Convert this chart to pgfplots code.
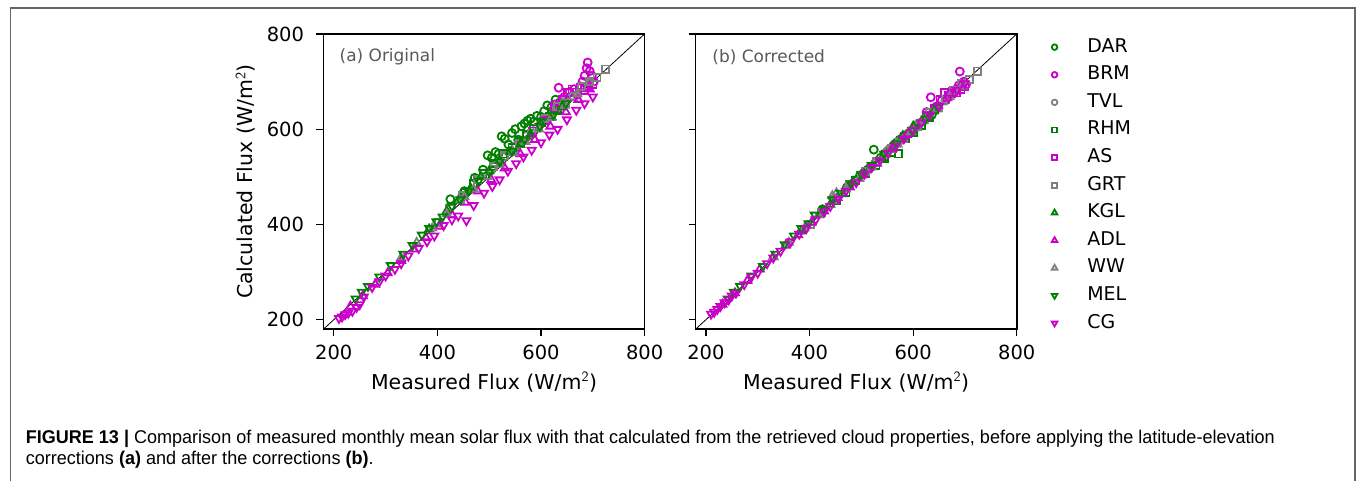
\documentclass[border=0pt]{standalone}
\usepackage{fontspec}
\setmainfont{DejaVu Sans}
\newfontfamily\capfont{Liberation Sans}
\usepackage{pgfplots}
\pgfplotsset{compat=1.18}
\usepackage{pgfplotstable}

\definecolor{cgreen}{HTML}{008000}
\definecolor{cmag}{HTML}{CC00CC}
\definecolor{cgray}{HTML}{808080}
\definecolor{captext}{HTML}{333333}
\definecolor{framec}{HTML}{666666}

% measured flux, calculated flux (original), calculated flux (corrected)
\pgfplotstableread{
meas orig corr
425 453 432
452 470 455
472 498 478
488 515 492
497 545 502
505 540 508
512 552 515
518 548 520
524 585 557
530 580 533
537 568 540
544 592 548
550 600 553
556 578 560
562 606 566
568 612 572
574 618 578
580 622 583
586 616 588
592 628 592
600 626 598
606 638 604
612 650 612
620 646 618
628 662 624
636 656 630
}\DAR
\pgfplotstableread{
meas orig corr
626 652 636
634 687 667
645 668 648
655 678 660
664 684 664
670 672 668
676 690 674
680 700 678
684 712 684
688 728 692
690 740 721
694 722 696
698 712 700
702 700 694
}\BRM
\pgfplotstableread{
meas orig corr
505 516 506
528 542 530
552 566 556
572 586 574
592 604 592
610 622 612
628 640 628
646 658 646
662 670 660
}\TVL
\pgfplotstableread{
meas orig corr
452 466 450
470 486 468
488 506 492
508 528 506
528 548 524
544 562 538
558 574 552
572 588 548
586 600 580
600 614 594
616 626 608
632 640 624
}\RHM
\pgfplotstableread{
meas orig corr
560 570 560
584 596 584
606 618 606
626 644 628
642 662 644
652 676 662
660 684 676
668 678 670
676 688 680
684 682 676
692 690 684
700 694 690
}\AS
\pgfplotstableread{
meas orig corr
402 404 400
424 434 426
448 460 452
478 494 484
508 522 512
530 544 532
558 570 560
582 590 580
608 622 606
632 648 634
648 654 646
662 668 662
678 690 682
694 700 696
708 708 704
724 726 722
}\GRT
\pgfplotstableread{
meas orig corr
384 390 386
418 428 420
440 450 442
464 476 464
484 500 490
500 512 504
520 534 522
540 552 540
560 568 560
580 590 586
600 612 606
620 626 622
640 646 638
}\KGL
\pgfplotstableread{
meas orig corr
232 228 232
256 250 256
280 274 282
304 298 306
330 324 332
354 348 356
378 372 378
404 396 404
428 420 428
454 446 456
478 470 478
504 494 504
530 518 528
560 548 560
588 578 588
618 606 618
648 636 650
672 662 672
694 684 694
}\ADL
\pgfplotstableread{
meas orig corr
330 330 332
360 362 362
390 392 392
418 422 420
444 450 460
452 458 466
470 474 474
496 500 496
520 526 520
546 550 546
570 574 568
596 600 594
620 624 618
646 650 642
670 674 668
694 698 690
}\WW
\pgfplotstableread{
meas orig corr
242 244 244
254 258 258
266 270 270
288 290 292
310 314 312
334 338 338
352 356 358
370 378 376
384 392 392
398 406 402
410 416 420
428 438 432
444 452 452
460 470 466
480 492 486
500 510 506
520 532 524
544 554 548
568 578 570
598 606 598
624 630 622
648 654 646
}\MEL
\pgfplotstableread{
meas orig corr
210 203 212
216 206 216
222 211 222
228 214 228
236 218 236
244 226 242
250 232 250
258 248 256
274 268 274
288 280 290
300 292 298
318 306 318
330 318 330
344 334 344
364 350 364
380 364 380
394 376 392
412 398 410
428 410 426
440 418 438
456 408 454
470 440 470
490 466 488
506 480 506
520 494 520
536 512 534
552 528 550
566 542 564
582 556 580
600 572 598
616 588 614
632 600 630
650 620 648
668 640 666
684 654 682
700 668 696
}\CG

\pgfplotsset{
  panel/.style={
    scale only axis, width=322bp, height=296bp,
    xmin=180, xmax=800, ymin=180, ymax=800,
    xtick={200,400,600,800}, ytick={200,400,600,800},
    tick align=outside, xtick pos=left, ytick pos=left,
    major tick length=7bp,
    tick style={black, line width=1.3bp},
    axis line style={black, line width=1.6bp},
    tick label style={font=\fontsize{19.5bp}{22bp}\selectfont},
    yticklabel style={xshift=-9bp},
    xticklabel style={yshift=-5bp},
    label style={font=\fontsize{20.5bp}{24bp}\selectfont},
    /pgf/number format/assume math mode=true,
    xlabel={Measured Flux (W/m$^{\mathsf{2}}$)},
    xlabel style={at={(axis description cs:0.5,-0.179)}, anchor=center},
    ylabel style={at={(axis description cs:-0.242,0.5)}, anchor=center},
  },
  stn/.style={only marks, line width=1.8bp},
  circ/.style={stn, mark=o, mark size=4bp},
  sq/.style={stn, mark=square, mark size=3.6bp},
  tup/.style={stn, mark=triangle, mark size=4.6bp},
  tdn/.style={stn, mark=triangle, mark size=4.6bp, mark options={rotate=180}},
}
\tikzset{panellabel/.style={anchor=west, inner sep=0pt, text=black!65, font=\fontsize{17bp}{20bp}\selectfont}}

\newsavebox\capone
\newsavebox\captwo
\newcommand\capsize{\capfont\fontsize{18.5bp}{22bp}\selectfont}
\sbox\capone{\capsize\textbf{FIGURE 13 |} Comparison of measured monthly mean solar flux with that calculated from the retrieved cloud properties, before applying the latitude-elevation}
\sbox\captwo{\capsize corrections \textbf{(a)} and after the corrections \textbf{(b)}.}

\begin{document}
\pgfmathsetmacro\capscale{1252/(\wd\capone/1bp)}
\begin{tikzpicture}
\useasboundingbox (0,0) rectangle (1357bp,482bp);
% frame around the figure
\draw[framec, line width=1.5bp] (7.5bp,0bp) -- (7.5bp,474bp) -- (1355bp,474bp) -- (1355bp,0bp);

% (a) original retrieval
\begin{axis}[panel, at={(321bp,152bp)}, anchor=south west,
  ylabel={Calculated Flux (W/m$^{\mathsf{2}}$)}]
\addplot[circ, cgreen] table[x=meas, y=orig] {\DAR};
\addplot[circ, cmag]   table[x=meas, y=orig] {\BRM};
\addplot[circ, cgray]  table[x=meas, y=orig] {\TVL};
\addplot[sq, cgreen]   table[x=meas, y=orig] {\RHM};
\addplot[sq, cmag]     table[x=meas, y=orig] {\AS};
\addplot[sq, cgray]    table[x=meas, y=orig] {\GRT};
\addplot[tup, cgreen]  table[x=meas, y=orig] {\KGL};
\addplot[tup, cmag]    table[x=meas, y=orig] {\ADL};
\addplot[tup, cgray]   table[x=meas, y=orig] {\WW};
\addplot[tdn, cgreen]  table[x=meas, y=orig] {\MEL};
\addplot[tdn, cmag]    table[x=meas, y=orig] {\CG};
\addplot[black, line width=0.8bp, no marks] coordinates {(180,180) (800,800)};
\node[panellabel] at (rel axis cs:0.05,0.922) {(a) Original};
\end{axis}

% (b) after the latitude-elevation corrections
\begin{axis}[panel, at={(694bp,152bp)}, anchor=south west,
  yticklabels={},
  legend style={draw=none, fill=none, at={(1.099,0.993)}, anchor=north west,
    font=\fontsize{19bp}{22bp}\selectfont, row sep=9.67bp,
    nodes={inner sep=0pt, text height=14bp, text depth=4bp},
    /tikz/every odd column/.append style={column sep=30bp}},
  legend cell align=left,
  legend image post style={scale=0.7}]
\addplot[circ, cgreen] table[x=meas, y=corr] {\DAR}; \addlegendentry{DAR}
\addplot[circ, cmag]   table[x=meas, y=corr] {\BRM}; \addlegendentry{BRM}
\addplot[circ, cgray]  table[x=meas, y=corr] {\TVL}; \addlegendentry{TVL}
\addplot[sq, cgreen]   table[x=meas, y=corr] {\RHM}; \addlegendentry{RHM}
\addplot[sq, cmag]     table[x=meas, y=corr] {\AS};  \addlegendentry{AS}
\addplot[sq, cgray]    table[x=meas, y=corr] {\GRT}; \addlegendentry{GRT}
\addplot[tup, cgreen]  table[x=meas, y=corr] {\KGL}; \addlegendentry{KGL}
\addplot[tup, cmag]    table[x=meas, y=corr] {\ADL}; \addlegendentry{ADL}
\addplot[tup, cgray]   table[x=meas, y=corr] {\WW};  \addlegendentry{WW}
\addplot[tdn, cgreen]  table[x=meas, y=corr] {\MEL}; \addlegendentry{MEL}
\addplot[tdn, cmag]    table[x=meas, y=corr] {\CG};  \addlegendentry{CG}
\addplot[black, line width=0.8bp, no marks, forget plot] coordinates {(180,180) (800,800)};
\node[panellabel] at (rel axis cs:0.052,0.922) {(b) Corrected};
\end{axis}

% caption
\node[anchor=base west, inner sep=0pt, text=captext] at (22.5bp,37bp) {\scalebox{\capscale}[1]{\usebox\capone}};
\node[anchor=base west, inner sep=0pt, text=captext] at (22.5bp,16bp) {\scalebox{\capscale}[1]{\usebox\captwo}};
\end{tikzpicture}
\end{document}
